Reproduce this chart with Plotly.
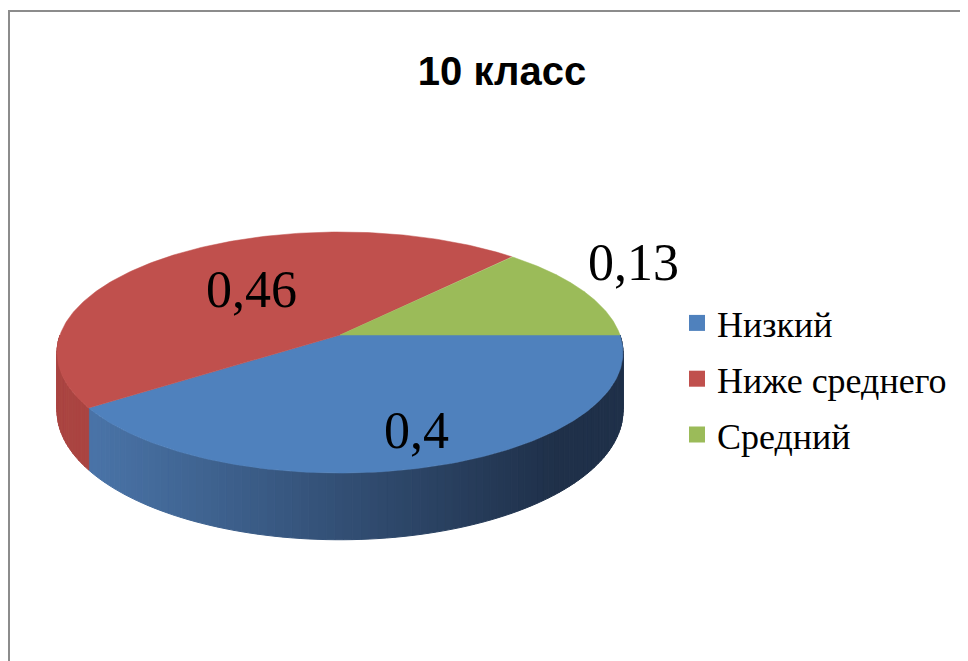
import numpy as np
import plotly.graph_objects as go

# ---- data ----
categories = ["Низкий", "Ниже среднего", "Средний"]
values = [0.4, 0.46, 0.13]
value_labels = ["0,4", "0,46", "0,13"]
title_text = "10 класс"

# ---- style ----
top_colors = ["#4F81BD", "#C0504D", "#9BBB59"]
side_light = [(0x4A, 0x74, 0xA8), (0xAA, 0x44, 0x41), (0x84, 0xA0, 0x4A)]
side_dark = [(0x1F, 0x30, 0x49), (0x9A, 0x3A, 0x37), (0x6F, 0x88, 0x3C)]
W, H_FIG = 968, 661
OFF = 8  # page body margin compensation
CX, CY, RX, RY, P, DEPTH = 340, 335, 280, 118, 0.1453, 57
label_k = [0.76, 0.54, 1.0]
label_shift = [(6, 0), (5, 0), (51, 28)]


def proj(phi_deg, k=1.0, depth=0.0):
    phi = np.radians(phi_deg)
    u = k * np.cos(phi)
    d = k * np.sin(phi)
    f = 1.0 / (1.0 - P * d)
    return CX + RX * u * f, CY + (RY * d + depth) * f


total = sum(values)
angles = []
a = 0.0
for v in values:
    span = v / total * 360.0
    angles.append((a, a + span))
    a += span

fig = go.Figure()


def side_color(i, x):
    t = min(max((x - 90) / (560 - 90), 0), 1)
    c0, c1 = side_light[i], side_dark[i]
    return "rgb(%d,%d,%d)" % tuple(int(c0[j] + (c1[j] - c0[j]) * t) for j in range(3))


# side walls (front half only: angles 0..180)
for i, (a0, a1) in enumerate(angles):
    s0, s1 = max(a0, 0.0), min(a1, 180.0)
    if s1 <= s0:
        continue
    n = max(int((s1 - s0) / 1.5), 1)
    edges = np.linspace(s0, s1, n + 1)
    for j in range(n):
        ph = np.linspace(edges[j], edges[j + 1], 4)
        tx, ty = proj(ph)
        bx, by = proj(ph[::-1], depth=DEPTH)
        xs = np.concatenate([tx, bx, tx[:1]])
        ys = np.concatenate([ty, by, ty[:1]])
        col = side_color(i, float(np.mean(tx)))
        fig.add_trace(go.Scatter(x=xs, y=ys, mode="lines", fill="toself",
                                 fillcolor=col, line=dict(color=col, width=1),
                                 hoverinfo="skip", showlegend=False))

# top faces
for i, (a0, a1) in enumerate(angles):
    ph = np.linspace(a0, a1, 200)
    tx, ty = proj(ph)
    xs = np.concatenate([[CX], tx, [CX]])
    ys = np.concatenate([[CY], ty, [CY]])
    fig.add_trace(go.Scatter(x=xs, y=ys, mode="lines", fill="toself",
                             fillcolor=top_colors[i],
                             line=dict(color=top_colors[i], width=0.5),
                             hoverinfo="skip", showlegend=False))

# legend entries
for i, cat in enumerate(categories):
    fig.add_trace(go.Scatter(x=[None], y=[None], mode="markers", name=cat,
                             legendgroup=cat,
                             marker=dict(symbol="square", size=16, color=top_colors[i])))

# value labels
for i, (a0, a1) in enumerate(angles):
    lx, ly = proj((a0 + a1) / 2, k=label_k[i])
    fig.add_annotation(x=lx, y=ly, text=value_labels[i], showarrow=False,
                       xshift=label_shift[i][0], yshift=label_shift[i][1],
                       font=dict(family="Liberation Serif", size=52, color="black"))

# chart frame
fig.add_shape(type="rect", xref="paper", yref="paper",
              x0=1 / W, y0=-0.1, x1=1.1, y1=1 - (11 - OFF) / H_FIG,
              line=dict(color="#8C8C8C", width=2))

fig.update_layout(
    width=W, height=H_FIG,
    margin=dict(l=0, r=0, t=0, b=0),
    paper_bgcolor="white", plot_bgcolor="white",
    title=dict(text="<b>" + title_text + "</b>", x=(502 - OFF) / W, xanchor="center",
               y=1 - (71 - OFF) / H_FIG, yanchor="middle",
               font=dict(family="Liberation Sans", size=40, color="black")),
    xaxis=dict(range=[OFF, W + OFF], visible=False, fixedrange=True),
    yaxis=dict(range=[H_FIG + OFF, OFF], visible=False, fixedrange=True),
    legend=dict(x=(677 - OFF) / W, xanchor="left", y=1 - (293 - OFF) / H_FIG, yanchor="top",
                font=dict(family="Liberation Serif", size=36, color="black"),
                tracegroupgap=6, bgcolor="rgba(0,0,0,0)"),
    showlegend=True,
)

fig.write_html("out.html")
